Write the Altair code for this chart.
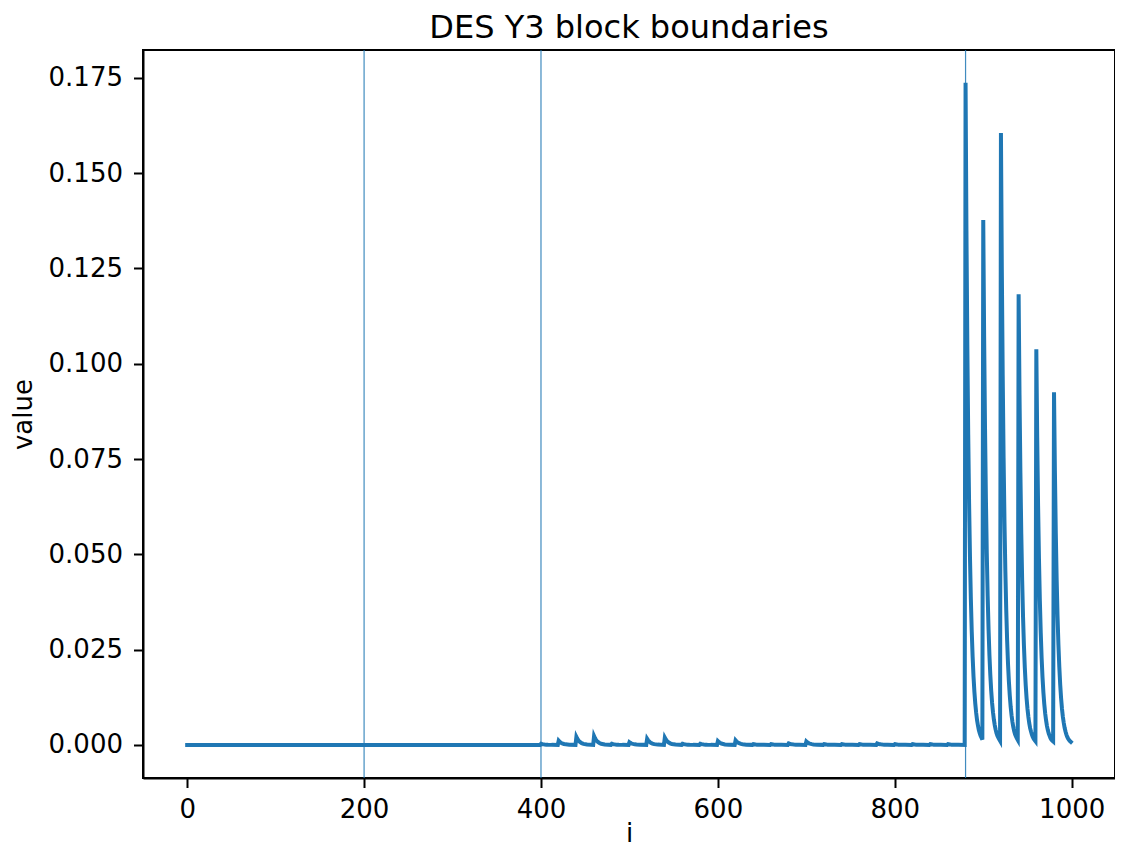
import altair as alt
import pandas as pd

# ---- data ----
title_text = "DES Y3 block boundaries"

flat_i = [0, 399]
flat_v = [0.0, 0.0]

boundaries = [200, 400, 880]

bump_offsets = [0, 1, 2, 3, 4, 6, 8, 12, 19]
bump_starts = [400, 420, 440, 460, 480, 500, 520, 540, 560, 580, 600, 620,
               640, 660, 680, 700, 720, 740, 760, 780, 800, 820, 840, 860]
bump_values = [
    [0.0003, 0.00023, 0.00018, 0.00014, 0.00011, 0.00007, 0.00004, 0.00001, 0.0],
    [0.0011, 0.00085, 0.00066, 0.00052, 0.00040, 0.00024, 0.00015, 0.00005, 0.00001],
    [0.0021, 0.00163, 0.00127, 0.00099, 0.00077, 0.00046, 0.00028, 0.00010, 0.00002],
    [0.0023, 0.00179, 0.00139, 0.00108, 0.00084, 0.00051, 0.00031, 0.00011, 0.00002],
    [0.0003, 0.00023, 0.00018, 0.00014, 0.00011, 0.00007, 0.00004, 0.00001, 0.0],
    [0.0007, 0.00054, 0.00042, 0.00033, 0.00026, 0.00015, 0.00009, 0.00003, 0.00001],
    [0.0016, 0.00124, 0.00097, 0.00075, 0.00058, 0.00035, 0.00021, 0.00008, 0.00001],
    [0.0019, 0.00148, 0.00115, 0.00089, 0.00069, 0.00042, 0.00025, 0.00009, 0.00002],
    [0.0003, 0.00023, 0.00018, 0.00014, 0.00011, 0.00007, 0.00004, 0.00001, 0.0],
    [0.0003, 0.00023, 0.00018, 0.00014, 0.00011, 0.00007, 0.00004, 0.00001, 0.0],
    [0.0010, 0.00078, 0.00060, 0.00047, 0.00037, 0.00022, 0.00013, 0.00005, 0.00001],
    [0.0012, 0.00093, 0.00072, 0.00056, 0.00044, 0.00026, 0.00016, 0.00006, 0.00001],
    [0.0002, 0.00016, 0.00012, 0.00009, 0.00007, 0.00004, 0.00003, 0.00001, 0.0],
    [0.0002, 0.00016, 0.00012, 0.00009, 0.00007, 0.00004, 0.00003, 0.00001, 0.0],
    [0.0004, 0.00031, 0.00024, 0.00019, 0.00015, 0.00009, 0.00005, 0.00002, 0.0],
    [0.0009, 0.00070, 0.00054, 0.00042, 0.00033, 0.00020, 0.00012, 0.00004, 0.00001],
    [0.0002, 0.00016, 0.00012, 0.00009, 0.00007, 0.00004, 0.00003, 0.00001, 0.0],
    [0.0002, 0.00016, 0.00012, 0.00009, 0.00007, 0.00004, 0.00003, 0.00001, 0.0],
    [0.0002, 0.00016, 0.00012, 0.00009, 0.00007, 0.00004, 0.00003, 0.00001, 0.0],
    [0.0004, 0.00031, 0.00024, 0.00019, 0.00015, 0.00009, 0.00005, 0.00002, 0.0],
    [0.0002, 0.00016, 0.00012, 0.00009, 0.00007, 0.00004, 0.00003, 0.00001, 0.0],
    [0.0002, 0.00016, 0.00012, 0.00009, 0.00007, 0.00004, 0.00003, 0.00001, 0.0],
    [0.0002, 0.00016, 0.00012, 0.00009, 0.00007, 0.00004, 0.00003, 0.00001, 0.0],
    [0.0002, 0.00016, 0.00012, 0.00009, 0.00007, 0.00004, 0.00003, 0.00001, 0.0],
]

spike_starts = [880, 900, 920, 940, 960, 980]
spike_values = [
    [0.1737, 0.1350, 0.1049, 0.0815, 0.0633, 0.0492, 0.0382, 0.0297, 0.0231, 0.0179,
     0.0139, 0.0108, 0.0084, 0.0065, 0.0051, 0.0039, 0.0031, 0.0024, 0.0019, 0.0014],
    [0.1377, 0.1070, 0.0831, 0.0646, 0.0502, 0.0390, 0.0303, 0.0235, 0.0183, 0.0142,
     0.0110, 0.0086, 0.0067, 0.0052, 0.0040, 0.0031, 0.0024, 0.0019, 0.0015, 0.0011],
    [0.1605, 0.1247, 0.0969, 0.0753, 0.0585, 0.0455, 0.0353, 0.0274, 0.0213, 0.0166,
     0.0129, 0.0100, 0.0078, 0.0060, 0.0047, 0.0036, 0.0028, 0.0022, 0.0017, 0.0013],
    [0.1182, 0.0918, 0.0714, 0.0554, 0.0431, 0.0335, 0.0260, 0.0202, 0.0157, 0.0122,
     0.0095, 0.0074, 0.0057, 0.0044, 0.0035, 0.0027, 0.0021, 0.0016, 0.0013, 0.0010],
    [0.1038, 0.0807, 0.0627, 0.0487, 0.0378, 0.0294, 0.0228, 0.0177, 0.0138, 0.0107,
     0.0083, 0.0065, 0.0050, 0.0039, 0.0030, 0.0024, 0.0018, 0.0014, 0.0011, 0.0009],
    [0.0925, 0.0719, 0.0558, 0.0434, 0.0337, 0.0262, 0.0204, 0.0158, 0.0123, 0.0095,
     0.0074, 0.0058, 0.0045, 0.0035, 0.0027, 0.0021, 0.0016, 0.0013, 0.0010, 0.0008],
]

x_ticks = [0, 200, 400, 600, 800, 1000]
y_ticks = [0.0, 0.025, 0.05, 0.075, 0.1, 0.125, 0.15, 0.175]

# ---- table ----
rows = [{"i": i, "value": v} for i, v in zip(flat_i, flat_v)]
for s, vals in zip(bump_starts, bump_values):
    for o, v in zip(bump_offsets, vals):
        rows.append({"i": s + o, "value": v})
for s, vals in zip(spike_starts, spike_values):
    for o, v in enumerate(vals):
        rows.append({"i": s + o, "value": v})
df = pd.DataFrame(rows).sort_values("i")
bdf = pd.DataFrame({"i": boundaries})
tdf = pd.DataFrame({"t": [title_text]})

FONT = "DejaVu Sans"
C = "#1f77b4"
W, H = 972, 728

xscale = alt.Scale(domain=[-49.95, 1048.95], nice=False, zero=False)
yscale = alt.Scale(domain=[-0.00868, 0.1823], nice=False, zero=False)

xaxis = alt.Axis(values=x_ticks, title="i", grid=False, format="d")
yaxis = alt.Axis(values=y_ticks, title="value", grid=False, format=".3f")

line = alt.Chart(df).mark_line(color=C, strokeWidth=4, strokeCap="square", clip=True).encode(
    x=alt.X("i:Q", scale=xscale, axis=xaxis),
    y=alt.Y("value:Q", scale=yscale, axis=yaxis),
)

rules = alt.Chart(bdf).mark_rule(color=C, strokeWidth=1.2, opacity=0.85).encode(
    x=alt.X("i:Q", scale=xscale),
)

title = alt.Chart(tdf).mark_text(
    font=FONT, fontSize=32, color="black", align="center", baseline="alphabetic"
).encode(text="t:N", x=alt.value(W / 2), y=alt.value(-12))

chart = (
    alt.layer(rules, line, title)
    .properties(
        width=W,
        height=H,
        autosize=alt.AutoSizeParams(type="none"),
        padding={"left": 135, "top": 42, "right": 0, "bottom": 68},
    )
    .configure_view(stroke="black", strokeWidth=2)
    .configure_axis(
        labelFont=FONT,
        titleFont=FONT,
        labelFontSize=26,
        titleFontSize=26,
        titleFontWeight="normal",
        labelColor="black",
        titleColor="black",
        domainColor="black",
        domainWidth=2,
        tickColor="black",
        tickWidth=2,
        tickSize=9.5,
    )
    .configure_axisX(labelPadding=9, titlePadding=-2)
    .configure_axisY(labelPadding=11, titlePadding=12)
)

chart.save("out.html", embed_options={"renderer": "svg", "actions": False})
